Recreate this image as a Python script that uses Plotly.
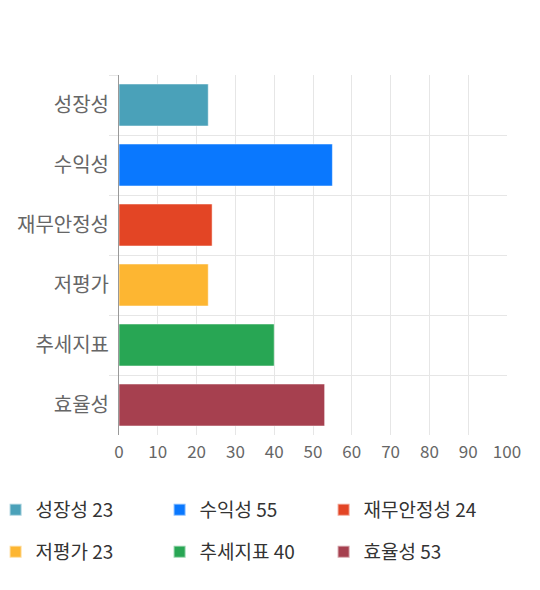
import plotly.graph_objects as go

categories = ["성장성", "수익성", "재무안정성", "저평가", "추세지표", "효율성"]
scores = [23, 55, 24, 23, 40, 53]
colors = ["#4aa1b9", "#0a78fe", "#e34525", "#fdb632", "#28a654", "#a6404f"]
x_ticks = [0, 10, 20, 30, 40, 50, 60, 70, 80, 90, 100]

FONT = "Noto Sans CJK KR"

fig = go.Figure()
for i, (cat, val, col) in enumerate(zip(categories, scores, colors)):
    fig.add_trace(
        go.Bar(
            x=[val],
            y=[cat],
            orientation="h",
            width=0.7,
            marker=dict(color=col, line=dict(color="rgba(255,255,255,0.5)", width=1)),
            name=f"{cat} {val}",
            legend="legend" if i < 3 else "legend2",
            hoverinfo="x+y",
        )
    )

legend_style = dict(
    orientation="h",
    xanchor="left",
    yanchor="middle",
    entrywidth=119,
    entrywidthmode="pixels",
    font=dict(family=FONT, size=19, color="#333333"),
    itemsizing="constant",
    bgcolor="rgba(0,0,0,0)",
)

# page body adds ~8px offset, so figure is sized down to fit the 540x590 window
fig.update_layout(
    width=532,
    height=582,
    margin=dict(l=111, r=33, t=67, b=155, autoexpand=False),
    plot_bgcolor="white",
    paper_bgcolor="white",
    barmode="overlay",
    font=dict(family=FONT),
    legend=dict(x=-0.318, y=-0.208, **legend_style),
    legend2=dict(x=-0.318, y=-0.325, **legend_style),
    xaxis=dict(
        range=[0, 100],
        tickvals=x_ticks,
        showgrid=True,
        gridcolor="#e6e6e6",
        zeroline=False,
        showline=False,
        ticklabelstandoff=5,
        tickfont=dict(family=FONT, size=17, color="#666666"),
        fixedrange=True,
    ),
    yaxis=dict(
        categoryorder="array",
        categoryarray=categories,
        autorange="reversed",
        tickson="boundaries",
        ticks="outside",
        ticklen=9,
        tickcolor="#e6e6e6",
        showgrid=True,
        gridcolor="#e6e6e6",
        showline=True,
        linecolor="#999999",
        linewidth=1,
        ticklabelstandoff=5,
        tickfont=dict(family=FONT, size=20, color="#666666"),
        fixedrange=True,
    ),
)

fig.write_html("out.html")
